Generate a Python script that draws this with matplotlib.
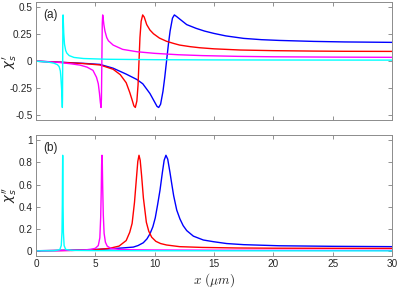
import matplotlib
matplotlib.use("Agg")
import matplotlib.pyplot as plt

# ---- data ----
# chi' (real part), panel (a)
cyan_x_re = [0, 1.0, 1.5, 1.8, 1.95, 2.05, 2.1, 2.16, 2.19, 2.22, 2.235, 2.25, 2.265, 2.28, 2.31, 2.34, 2.4, 2.5, 2.6, 2.8, 3.2, 4, 6, 10, 15, 20, 30]
cyan_re   = [0, -0.008, -0.018, -0.032, -0.05, -0.09, -0.15, -0.26, -0.35, -0.43, -0.35, 0, 0.35, 0.43, 0.35, 0.26, 0.16, 0.1, 0.075, 0.052, 0.035, 0.025, 0.018, 0.014, 0.012, 0.011, 0.01]

mag_x_re = [0, 1, 2, 3, 3.7, 4.3, 4.8, 5.1, 5.25, 5.35, 5.42, 5.48, 5.515, 5.55, 5.585, 5.62, 5.66, 5.72, 5.81, 5.96, 6.1, 6.5, 7.3, 8.5, 10, 12, 14, 17, 20, 25, 30]
mag_re   = [0, -0.005, -0.012, -0.025, -0.036, -0.055, -0.085, -0.15, -0.21, -0.3, -0.38, -0.43, -0.35, 0, 0.35, 0.43, 0.4, 0.34, 0.28, 0.22, 0.19, 0.15, 0.11, 0.088, 0.073, 0.06, 0.052, 0.045, 0.041, 0.038, 0.036]

red_x_re = [0, 2, 4, 5.4, 6.5, 7.1, 7.6, 7.9, 8.1, 8.25, 8.37, 8.5, 8.6, 8.68, 8.76, 8.86, 8.99, 9.12, 9.33, 9.6, 9.9, 10.4, 11, 11.6, 12.1, 13, 13.8, 15, 17.2, 20, 23.4, 26, 30]
red_re   = [0, -0.01, -0.022, -0.035, -0.075, -0.125, -0.2, -0.29, -0.36, -0.415, -0.43, -0.37, -0.22, 0, 0.22, 0.37, 0.43, 0.41, 0.34, 0.29, 0.255, 0.215, 0.185, 0.165, 0.15, 0.135, 0.125, 0.115, 0.104, 0.098, 0.094, 0.092, 0.091]

blue_x_re = [0, 1.2, 2.5, 4, 5.4, 6.5, 7.6, 8.5, 9.0, 9.6, 10.0, 10.2, 10.34, 10.5, 10.7, 10.85, 11.0, 11.15, 11.3, 11.5, 11.66, 11.85, 12.13, 12.7, 13.5, 14.2, 15, 16, 17.5, 19, 20.5, 23.4, 26, 30]
blue_re   = [0, -0.005, -0.012, -0.02, -0.03, -0.065, -0.12, -0.17, -0.21, -0.3, -0.38, -0.42, -0.43, -0.4, -0.28, -0.15, 0, 0.15, 0.28, 0.4, 0.43, 0.415, 0.39, 0.34, 0.305, 0.28, 0.258, 0.235, 0.212, 0.2, 0.193, 0.184, 0.179, 0.175]

# chi'' (imaginary part), panel (b)
cyan_x_im = [0, 1.5, 2.0, 2.13, 2.19, 2.22, 2.235, 2.25, 2.265, 2.28, 2.31, 2.37, 2.5, 3, 5, 10, 30]
cyan_im   = [0.002, 0.003, 0.012, 0.05, 0.17, 0.43, 0.69, 0.865, 0.69, 0.43, 0.17, 0.05, 0.015, 0.006, 0.004, 0.003, 0.002]

mag_x_im = [0, 2, 3, 4, 4.6, 5.0, 5.25, 5.38, 5.45, 5.5, 5.53, 5.56, 5.59, 5.62, 5.67, 5.74, 5.85, 6.0, 6.3, 7, 8, 10, 15, 20, 30]
mag_im   = [0.003, 0.004, 0.006, 0.01, 0.015, 0.025, 0.05, 0.12, 0.3, 0.55, 0.78, 0.865, 0.78, 0.58, 0.33, 0.16, 0.08, 0.045, 0.025, 0.015, 0.012, 0.01, 0.008, 0.007, 0.006]

red_x_im = [0, 3, 5, 6.2, 7.0, 7.6, 7.9, 8.1, 8.3, 8.45, 8.58, 8.68, 8.78, 8.9, 9.05, 9.3, 9.5, 9.75, 10.1, 10.5, 11, 12.1, 14, 17, 20, 25, 30]
red_im   = [0.003, 0.006, 0.012, 0.025, 0.045, 0.095, 0.17, 0.25, 0.44, 0.64, 0.81, 0.865, 0.82, 0.68, 0.48, 0.26, 0.18, 0.125, 0.088, 0.068, 0.055, 0.04, 0.033, 0.028, 0.026, 0.025, 0.024]

blue_x_im = [0, 3, 5, 6.5, 7.5, 8.2, 8.6, 9.04, 9.35, 9.6, 9.85, 10.05, 10.25, 10.45, 10.65, 10.8, 10.95, 11.1, 11.29, 11.45, 11.6, 11.86, 12.13, 12.4, 12.7, 13.26, 14.1, 14.94, 16.07, 17.5, 20.5, 25, 30]
blue_im   = [0.003, 0.008, 0.015, 0.022, 0.03, 0.036, 0.05, 0.075, 0.11, 0.155, 0.22, 0.3, 0.42, 0.55, 0.71, 0.82, 0.865, 0.83, 0.71, 0.6, 0.5, 0.37, 0.29, 0.23, 0.185, 0.135, 0.1, 0.085, 0.068, 0.058, 0.048, 0.043, 0.04]

x_ticks = [0, 5, 10, 15, 20, 25, 30]
y_ticks_a = [-0.5, -0.25, 0, 0.25, 0.5]
y_ticks_a_labels = ["-0.5", "-0.25", "0", "0.25", "0.5"]
y_ticks_b = [0, 0.2, 0.4, 0.6, 0.8, 1]
y_ticks_b_labels = ["0", "0.2", "0.4", "0.6", "0.8", "1"]

plt.rcParams['font.family'] = ['Liberation Sans', 'DejaVu Sans']

fig = plt.figure(figsize=(3.99, 2.88), dpi=100)
ax1 = fig.add_axes([0.0902, 0.582, 0.8923, 0.411])
ax2 = fig.add_axes([0.0902, 0.1128, 0.8923, 0.4192])

lw = 1.0
ax1.plot(blue_x_re, blue_re, color=(0, 0, 1), lw=lw)
ax1.plot(red_x_re, red_re, color=(1, 0, 0), lw=lw)
ax1.plot(mag_x_re, mag_re, color=(1, 0, 1), lw=lw)
ax1.plot(cyan_x_re, cyan_re, color=(0, 1, 1), lw=lw)

ax2.plot(blue_x_im, blue_im, color=(0, 0, 1), lw=lw)
ax2.plot(red_x_im, red_im, color=(1, 0, 0), lw=lw)
ax2.plot(mag_x_im, mag_im, color=(1, 0, 1), lw=lw)
ax2.plot(cyan_x_im, cyan_im, color=(0, 1, 1), lw=lw)

textc = '#262626'
for ax in (ax1, ax2):
    ax.set_xlim(0, 30)
    ax.set_xticks(x_ticks)
    ax.tick_params(direction='in', top=True, right=True, length=3, width=0.6,
                   colors='#808080', labelcolor=textc, labelsize=7.2, pad=2.5)
    for s in ax.spines.values():
        s.set_color('#8c8c8c')
        s.set_linewidth(0.7)

ax1.set_ylim(-0.55, 0.55)
ax1.set_yticks(y_ticks_a)
ax1.set_yticklabels(y_ticks_a_labels)
ax1.set_xticklabels([])
ax2.set_ylim(-0.04, 1.05)
ax2.set_yticks(y_ticks_b)
ax2.set_yticklabels(y_ticks_b_labels)

ax1.set_ylabel(r"$\chi_s'$", fontsize=9.5, color=textc)
ax2.set_ylabel(r"$\chi_s''$", fontsize=9.5, color=textc)
ax1.yaxis.set_label_coords(-0.05, 0.5)
ax2.yaxis.set_label_coords(-0.05, 0.5)
ax2.set_xlabel(r"$x\ (\mu m)$", fontsize=9.5, color=textc, labelpad=1.5, math_fontfamily='cm')

ax1.text(0.019, 0.893, "(a)", transform=ax1.transAxes, fontsize=8.5, color=textc, va='center', ha='left')
ax2.text(0.019, 0.893, "(b)", transform=ax2.transAxes, fontsize=8.5, color=textc, va='center', ha='left')

fig.savefig("out.png", dpi=100)
